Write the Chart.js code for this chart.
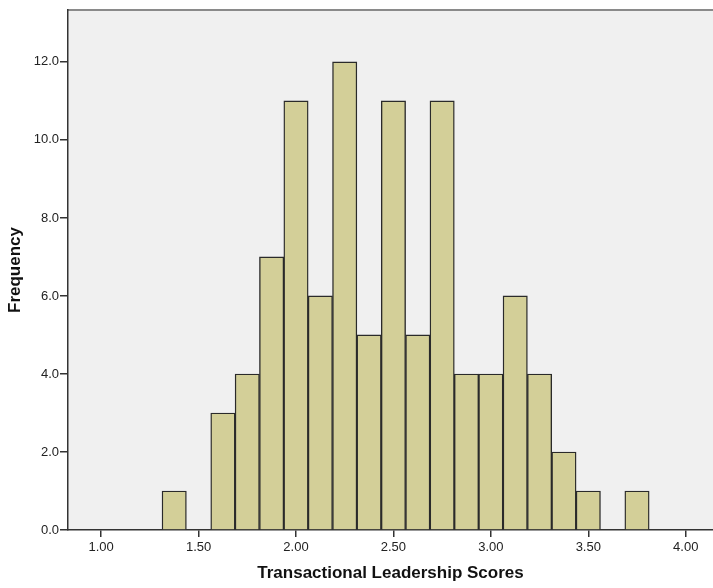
<!DOCTYPE html>
<html lang="en">
<head>
<meta charset="UTF-8">
<title>Histogram</title>
<style>
  html, body { margin: 0; padding: 0; background: #fff; }
  #box { width: 713px; height: 588px; }
</style>
</head>
<body>
<div id="box"><canvas id="myChart"></canvas></div>
<script src="https://cdn.jsdelivr.net/npm/chart.js"></script>
<script>
// bin centres (width 0.125) and counts
const binCenters = [1.375, 1.5, 1.625, 1.75, 1.875, 2.0, 2.125, 2.25, 2.375, 2.5,
                    2.625, 2.75, 2.875, 3.0, 3.125, 3.25, 3.375, 3.5, 3.625, 3.75];
const counts = [1, 0, 3, 4, 7, 11, 6, 12, 5, 11, 5, 11, 4, 4, 6, 4, 2, 1, 0, 1];
const xTicks = [1.0, 1.5, 2.0, 2.5, 3.0, 3.5, 4.0];
const yTicks = [0, 2, 4, 6, 8, 10, 12];

const points = binCenters.map((c, i) => ({ x: c, y: counts[i] }));

// plot background and top frame line
const frame = {
    id: 'frame',
    beforeDraw(chart) {
        const a = chart.chartArea, c = chart.ctx;
        c.save();
        c.fillStyle = '#f0f0f0';
        c.fillRect(a.left, a.top, a.right - a.left, a.bottom - a.top);
        c.strokeStyle = '#8a8a8a';
        c.lineWidth = 2;
        c.beginPath();
        c.moveTo(a.left, a.top);
        c.lineTo(a.right, a.top);
        c.stroke();
        c.restore();
    }
};

const ctx = document.getElementById('myChart');
new Chart(ctx, {
    type: 'bar',
    data: {
        datasets: [{
            data: points,
            backgroundColor: '#d3cf98',
            borderColor: '#2a2a2a',
            borderWidth: 1.4,
            barPercentage: 1,
            categoryPercentage: 1,
            grouped: false
        }]
    },
    options: {
        responsive: true,
        maintainAspectRatio: false,
        animation: false,
        layout: { padding: { top: 10, right: 0, left: 0, bottom: 0 } },
        plugins: { legend: { display: false }, tooltip: { enabled: false } },
        scales: {
            x: {
                type: 'linear',
                offset: false,
                min: 0.83,
                max: 4.14,
                afterFit(s) { s.height = 58; },
                afterBuildTicks(s) { s.ticks = xTicks.map(v => ({ value: v })); },
                grid: { offset: false, drawOnChartArea: false, tickLength: 7, color: '#333', lineWidth: 1.5 },
                border: { color: '#333', width: 1.5 },
                ticks: {
                    color: '#222',
                    font: { family: 'Liberation Sans', size: 13 },
                    padding: 3,
                    maxRotation: 0,
                    callback: v => v.toFixed(2)
                },
                title: {
                    display: true,
                    text: 'Transactional Leadership Scores',
                    color: '#111',
                    font: { family: 'Liberation Sans', size: 17, weight: 'bold' },
                    padding: { top: 0, bottom: 4 }
                }
            },
            y: {
                min: 0,
                max: 13.33,
                afterFit(s) { s.width = 68; },
                afterBuildTicks(s) { s.ticks = yTicks.map(v => ({ value: v })); },
                grid: { drawOnChartArea: false, tickLength: 8, color: '#333', lineWidth: 1.5 },
                border: { color: '#333', width: 1.5 },
                ticks: {
                    color: '#222',
                    font: { family: 'Liberation Sans', size: 13 },
                    padding: 1,
                    callback: v => v.toFixed(1)
                },
                title: {
                    display: true,
                    text: 'Frequency',
                    color: '#111',
                    font: { family: 'Liberation Sans', size: 17, weight: 'bold' },
                    padding: { top: 5, bottom: 0 }
                }
            }
        }
    },
    plugins: [frame]
});
</script>
</body>
</html>
